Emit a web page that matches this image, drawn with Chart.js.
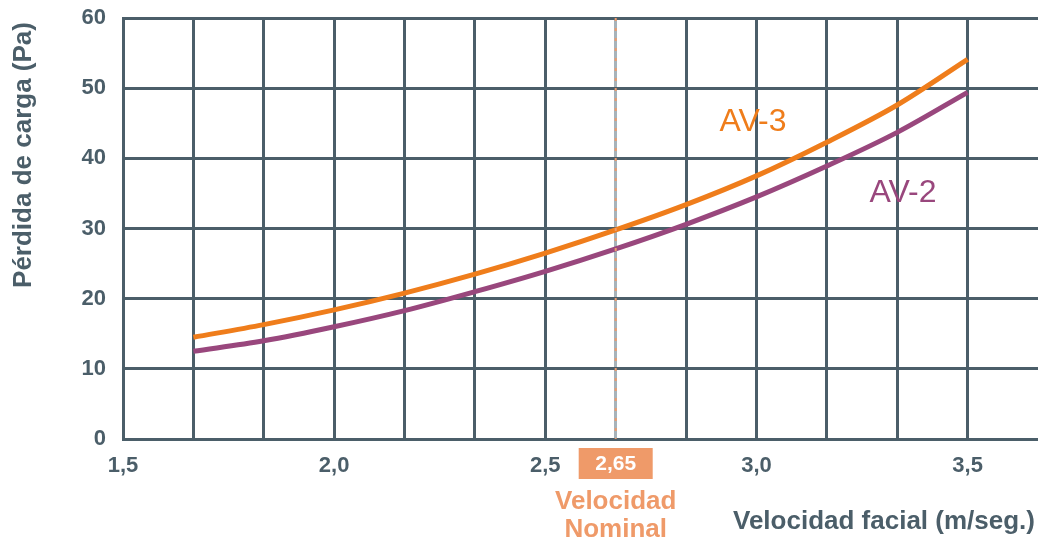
<!DOCTYPE html>
<html>
<head>
<meta charset="utf-8">
<script src="https://cdn.jsdelivr.net/npm/chart.js@4"></script>
<style>
  html, body { margin: 0; padding: 0; background: #fff; }
  #wrap { width: 1038px; height: 542px; }
</style>
</head>
<body>
<div id="wrap"><canvas id="chart" width="1038" height="542"></canvas></div>
<script>
// Grid positions on x (every 1/6 m/s), labels only on the half steps
const xGrid = [1.5, 1.6667, 1.8333, 2.0, 2.1667, 2.3333, 2.5, 2.6667, 2.8333, 3.0, 3.1667, 3.3333, 3.5, 3.6667];
const xLabels = { 1.5: '1,5', 2.0: '2,0', 2.5: '2,5', 3.0: '3,0', 3.5: '3,5' };
const yTicks = [0, 10, 20, 30, 40, 50, 60];

// Curve samples
const velocity = [1.6667, 1.8333, 2.0, 2.1667, 2.3333, 2.5, 2.6667, 2.8333, 3.0, 3.1667, 3.3333, 3.5];
const av3 = [14.5, 16.3, 18.4, 20.8, 23.5, 26.5, 29.8, 33.4, 37.5, 42.3, 47.6, 54.1];
const av2 = [12.5, 14.0, 16.0, 18.3, 21.0, 23.9, 27.1, 30.6, 34.5, 38.9, 43.7, 49.4];

// Nominal velocity marker (drawn on the grid line as in the original)
const nominalPos = 2.6667;
const nominalText = '2,65';

const gridColor = '#4b5e69';
const textColor = '#4b5e69';
const orange = '#ef7d1b';
const purple = '#99477d';
const salmon = '#ef9a69';
const font = '"Liberation Sans", Arial, sans-serif';
const narrow = '"Liberation Sans Narrow", "Arial Narrow", "Liberation Sans", Arial, sans-serif';

const extras = {
    id: 'extras',
    afterDatasetsDraw(chart) {
        const ctx = chart.ctx;
        const x = chart.scales.x;
        const y = chart.scales.y;
        const px = x.getPixelForValue(nominalPos);

        ctx.save();
        // dashed nominal line
        ctx.strokeStyle = salmon;
        ctx.lineWidth = 2;
        ctx.setLineDash([3, 7]);
        ctx.beginPath();
        ctx.moveTo(px, y.top);
        ctx.lineTo(px, y.bottom);
        ctx.stroke();
        ctx.setLineDash([]);

        // series labels
        ctx.font = '32px ' + font;
        ctx.textAlign = 'center';
        ctx.textBaseline = 'middle';
        ctx.fillStyle = orange;
        ctx.fillText('AV-3', 753, 122);
        ctx.fillStyle = purple;
        ctx.fillText('AV-2', 903, 193);
        ctx.restore();
    },
    afterDraw(chart) {
        const ctx = chart.ctx;
        const x = chart.scales.x;
        const px = x.getPixelForValue(nominalPos);
        ctx.save();
        // nominal value box
        ctx.fillStyle = salmon;
        ctx.fillRect(px - 37, 448, 74, 31);
        ctx.fillStyle = '#fff';
        ctx.font = 'bold 21px ' + narrow;
        ctx.textAlign = 'center';
        ctx.textBaseline = 'middle';
        ctx.fillText(nominalText, px, 464);

        ctx.fillStyle = salmon;
        ctx.font = 'bold 26px ' + font;
        ctx.fillText('Velocidad', px, 502);
        ctx.fillText('Nominal', px, 530);

        // axis titles
        ctx.fillStyle = textColor;
        ctx.textAlign = 'right';
        ctx.fillText('Velocidad facial (m/seg.)', 1035, 522);

        ctx.translate(24, 155);
        ctx.rotate(-Math.PI / 2);
        ctx.textAlign = 'center';
        ctx.fillText('Pérdida de carga (Pa)', 0, 0);
        ctx.restore();
    }
};

new Chart(document.getElementById('chart'), {
    type: 'line',
    data: {
        datasets: [
            {
                label: 'AV-3',
                data: velocity.map((v, i) => ({ x: v, y: av3[i] })),
                borderColor: orange,
                borderWidth: 5,
                pointRadius: 0,
                cubicInterpolationMode: 'monotone',
                fill: false
            },
            {
                label: 'AV-2',
                data: velocity.map((v, i) => ({ x: v, y: av2[i] })),
                borderColor: purple,
                borderWidth: 5,
                pointRadius: 0,
                cubicInterpolationMode: 'monotone',
                fill: false
            }
        ]
    },
    options: {
        responsive: false,
        animation: false,
        layout: { autoPadding: false, padding: { top: 18, right: 0, left: 0, bottom: 0 } },
        plugins: {
            legend: { display: false },
            tooltip: { enabled: false }
        },
        scales: {
            x: {
                type: 'linear',
                min: 1.5,
                max: 3.6667,
                afterBuildTicks: function(scale) {
                    scale.ticks = xGrid.map(v => ({ value: v }));
                },
                afterFit: function(scale) {
                    scale.height = 103;
                    scale.paddingLeft = 0;
                    scale.paddingRight = 0;
                },
                grid: {
                    color: function(c) {
                        if (c.tick.value > 3.6) return 'rgba(0,0,0,0)';
                        return Math.abs(c.tick.value - nominalPos) < 0.001 ? '#a7b3ba' : gridColor;
                    },
                    lineWidth: 3,
                    drawTicks: false
                },
                border: { color: gridColor, width: 3 },
                ticks: {
                    autoSkip: false,
                    maxRotation: 0,
                    padding: 14,
                    color: textColor,
                    font: { family: narrow, size: 22, weight: 'bold' },
                    callback: function(value) {
                        for (const k in xLabels) {
                            if (Math.abs(Number(k) - value) < 0.001) return xLabels[k];
                        }
                        return '';
                    }
                }
            },
            y: {
                min: 0,
                max: 60,
                afterBuildTicks: function(scale) {
                    scale.ticks = yTicks.map(v => ({ value: v }));
                },
                afterFit: function(scale) {
                    scale.width = 123;
                    scale.paddingTop = 0;
                    scale.paddingBottom = 0;
                },
                grid: { color: gridColor, lineWidth: 3, drawTicks: false },
                border: { color: gridColor, width: 3 },
                ticks: {
                    padding: 17,
                    color: textColor,
                    font: { family: font, size: 22, weight: 'bold' }
                }
            }
        }
    },
    plugins: [extras]
});
</script>
</body>
</html>
